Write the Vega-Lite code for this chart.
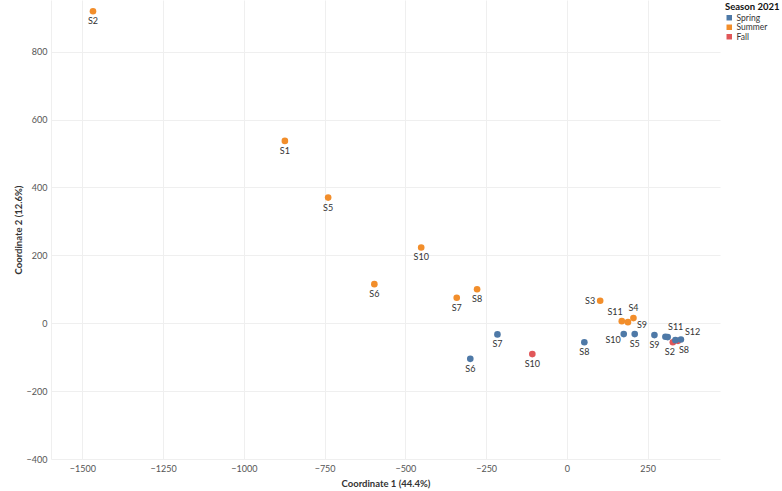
{
  "$schema": "https://vega.github.io/schema/vega-lite/v6.json",
  "autosize": {"type": "none"},
  "padding": {"left": 51, "top": 0, "right": 62, "bottom": 32},
  "width": 669,
  "height": 459,
  "background": "white",
  "config": {
    "view": {"stroke": null},
    "font": "Lato",
    "axis": {
      "labelFont": "Lato",
      "titleFont": "Lato",
      "labelFontSize": 9,
      "labelColor": "#555555",
      "titleFontSize": 9.5,
      "titleFontWeight": "bold",
      "titleColor": "#333333",
      "gridColor": "#efefef",
      "gridWidth": 1,
      "ticks": false
    }
  },
  "data": {
    "values": [
      {"season": "Fall", "sample": "S8", "c1": 344, "c2": -52},
      {"season": "Fall", "sample": "S10", "c1": -107, "c2": -91},
      {"season": "Fall", "sample": "S2", "c1": 328, "c2": -56},
      {"season": "Summer", "sample": "S2", "c1": -1467, "c2": 919},
      {"season": "Summer", "sample": "S1", "c1": -873, "c2": 537},
      {"season": "Summer", "sample": "S5", "c1": -739, "c2": 370},
      {"season": "Summer", "sample": "S10", "c1": -451, "c2": 223},
      {"season": "Summer", "sample": "S6", "c1": -596, "c2": 115},
      {"season": "Summer", "sample": "S7", "c1": -341, "c2": 75},
      {"season": "Summer", "sample": "S8", "c1": -278, "c2": 100},
      {"season": "Summer", "sample": "S3", "c1": 103, "c2": 66},
      {"season": "Summer", "sample": "S11", "c1": 170, "c2": 6},
      {"season": "Summer", "sample": "S9", "c1": 189, "c2": 3},
      {"season": "Summer", "sample": "S4", "c1": 206, "c2": 15},
      {"season": "Spring", "sample": "S6", "c1": -299, "c2": -105},
      {"season": "Spring", "sample": "S7", "c1": -215, "c2": -33},
      {"season": "Spring", "sample": "S8", "c1": 54, "c2": -56},
      {"season": "Spring", "sample": "S10", "c1": 176, "c2": -32},
      {"season": "Spring", "sample": "S5", "c1": 210, "c2": -32},
      {"season": "Spring", "sample": "S9", "c1": 271, "c2": -35},
      {"season": "Spring", "sample": "S4", "c1": 305, "c2": -40},
      {"season": "Spring", "sample": "S11", "c1": 312, "c2": -41},
      {"season": "Spring", "sample": "S2", "c1": 336, "c2": -50},
      {"season": "Spring", "sample": "S12", "c1": 353, "c2": -48}
    ]
  },
  "encoding": {
    "x": {
      "field": "c1",
      "type": "quantitative",
      "scale": {"domain": [-1597, 474], "nice": false, "zero": false},
      "axis": {
        "title": "Coordinate 1 (44.4%)",
        "values": [-1500, -1250, -1000, -750, -500, -250, 0, 250],
        "format": "d",
        "domain": false,
        "labelPadding": 5,
        "titlePadding": 5
      }
    },
    "y": {
      "field": "c2",
      "type": "quantitative",
      "scale": {"domain": [-400, 952], "nice": false, "zero": false},
      "axis": {
        "title": "Coordinate 2 (12.6%)",
        "values": [-400, -200, 0, 200, 400, 600, 800],
        "format": "d",
        "domain": true,
        "domainColor": "#efefef",
        "labelPadding": 4,
        "titlePadding": 3
      }
    }
  },
  "layer": [
    {
      "mark": {"type": "point", "filled": true, "size": 44, "opacity": 1},
      "encoding": {
        "color": {
          "field": "season",
          "type": "nominal",
          "scale": {"domain": ["Spring", "Summer", "Fall"], "range": ["#4e79a7", "#f28e2b", "#e15759"]},
          "legend": {
            "title": "Season 2021",
            "orient": "none",
            "legendX": 674,
            "legendY": 2,
            "symbolType": "square",
            "symbolSize": 30,
            "symbolStrokeWidth": 0,
            "titleFont": "Lato",
            "titleFontSize": 9.5,
            "titleFontWeight": "bold",
            "titleColor": "#111111",
            "titlePadding": 2,
            "labelFont": "Lato",
            "labelFontSize": 8.5,
            "labelColor": "#333333",
            "labelOffset": 3,
            "rowPadding": 0.5
          }
        }
      }
    },
    {
      "transform": [{"filter": "indexof(['Summer|S3','Summer|S11','Summer|S4','Summer|S9','Spring|S10','Spring|S11','Spring|S12','Spring|S4','Spring|S2','Fall|S2','Fall|S8'], datum.season + '|' + datum.sample) < 0"}],
      "mark": {"type": "text", "fontSize": 9, "color": "#333333", "baseline": "middle", "align": "center", "dy": 10},
      "encoding": {"text": {"field": "sample"}}
    },
    {
      "transform": [{"filter": "datum.season === 'Summer' && datum.sample === 'S3'"}],
      "mark": {"type": "text", "fontSize": 9, "color": "#333333", "baseline": "middle", "align": "right", "dx": -5, "dy": 0},
      "encoding": {"text": {"field": "sample"}}
    },
    {
      "transform": [{"filter": "datum.season === 'Summer' && datum.sample === 'S11'"}],
      "mark": {"type": "text", "fontSize": 9, "color": "#333333", "baseline": "middle", "align": "right", "dx": 1, "dy": -9},
      "encoding": {"text": {"field": "sample"}}
    },
    {
      "transform": [{"filter": "datum.season === 'Summer' && datum.sample === 'S4'"}],
      "mark": {"type": "text", "fontSize": 9, "color": "#333333", "baseline": "middle", "align": "center", "dy": -10},
      "encoding": {"text": {"field": "sample"}}
    },
    {
      "transform": [{"filter": "datum.season === 'Summer' && datum.sample === 'S9'"}],
      "mark": {"type": "text", "fontSize": 9, "color": "#333333", "baseline": "middle", "align": "left", "dx": 9, "dy": 3},
      "encoding": {"text": {"field": "sample"}}
    },
    {
      "transform": [{"filter": "datum.season === 'Spring' && datum.sample === 'S10'"}],
      "mark": {"type": "text", "fontSize": 9, "color": "#333333", "baseline": "middle", "align": "right", "dx": -3, "dy": 6},
      "encoding": {"text": {"field": "sample"}}
    },
    {
      "transform": [{"filter": "datum.season === 'Spring' && datum.sample === 'S11'"}],
      "mark": {"type": "text", "fontSize": 9, "color": "#333333", "baseline": "middle", "align": "center", "dx": 8, "dy": -10},
      "encoding": {"text": {"field": "sample"}}
    },
    {
      "transform": [{"filter": "datum.season === 'Spring' && datum.sample === 'S12'"}],
      "mark": {"type": "text", "fontSize": 9, "color": "#333333", "baseline": "middle", "align": "left", "dx": 4, "dy": -7},
      "encoding": {"text": {"field": "sample"}}
    },
    {
      "transform": [{"filter": "datum.season === 'Fall' && datum.sample === 'S2'"}],
      "mark": {"type": "text", "fontSize": 9, "color": "#333333", "baseline": "middle", "align": "center", "dx": -3, "dy": 10},
      "encoding": {"text": {"field": "sample"}}
    },
    {
      "transform": [{"filter": "datum.season === 'Fall' && datum.sample === 'S8'"}],
      "mark": {"type": "text", "fontSize": 9, "color": "#333333", "baseline": "middle", "align": "center", "dx": 6, "dy": 9},
      "encoding": {"text": {"field": "sample"}}
    }
  ]
}
